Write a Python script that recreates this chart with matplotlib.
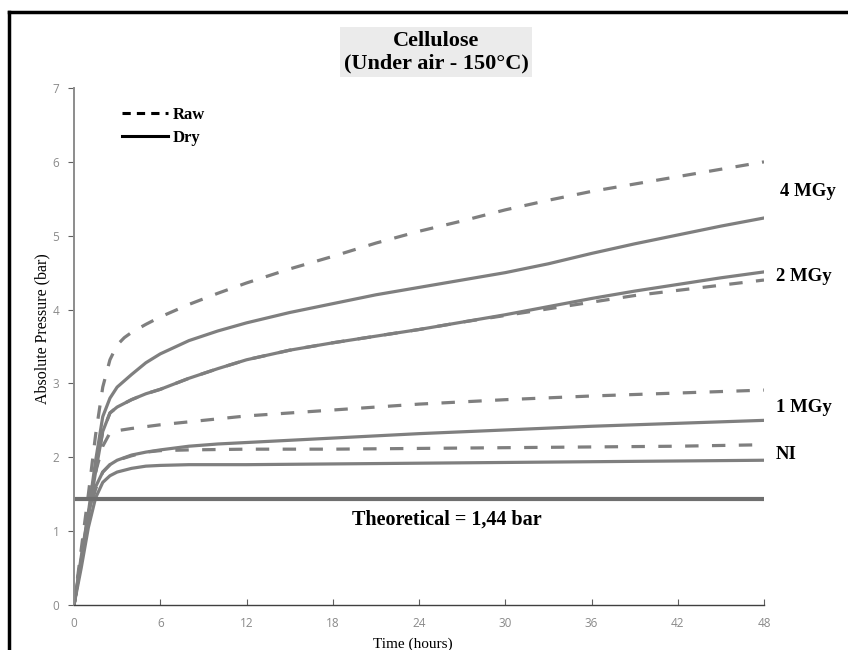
import matplotlib
matplotlib.use("Agg")
import matplotlib.pyplot as plt
from matplotlib.lines import Line2D

# ---- data ----
t_4raw = [0, 0.5, 1, 1.5, 2, 2.5, 3, 3.5, 4, 5, 6, 8, 10, 12, 15, 18, 21, 24, 27, 30, 33, 36, 39, 42, 45, 48]
p_4raw = [0, 0.75, 1.5, 2.3, 2.95, 3.32, 3.52, 3.62, 3.69, 3.8, 3.9, 4.07, 4.22, 4.36, 4.55, 4.72, 4.9, 5.06,
          5.2, 5.35, 5.48, 5.6, 5.7, 5.8, 5.9, 6.0]

t_4dry = [0, 0.5, 1, 1.5, 2, 2.5, 3, 4, 5, 6, 8, 10, 12, 15, 18, 21, 24, 27, 30, 33, 36, 39, 42, 45, 48]
p_4dry = [0, 0.6, 1.25, 1.95, 2.55, 2.8, 2.95, 3.12, 3.28, 3.4, 3.58, 3.71, 3.82, 3.96, 4.08, 4.2, 4.3,
          4.4, 4.5, 4.62, 4.76, 4.89, 5.01, 5.13, 5.24]

t_2dry = [0, 0.5, 1, 1.5, 2, 2.5, 3, 4, 5, 6, 8, 10, 12, 15, 18, 21, 24, 27, 30, 33, 36, 39, 42, 45, 48]
p_2dry = [0, 0.6, 1.2, 1.8, 2.35, 2.6, 2.68, 2.78, 2.86, 2.92, 3.07, 3.2, 3.32, 3.45, 3.55, 3.64, 3.73,
          3.83, 3.93, 4.04, 4.15, 4.25, 4.34, 4.43, 4.51]

t_2raw = [0, 0.5, 1, 1.5, 2, 2.5, 3, 4, 5, 6, 8, 10, 12, 15, 18, 21, 24, 27, 30, 33, 36, 39, 42, 45, 48]
p_2raw = [0, 0.6, 1.2, 1.8, 2.35, 2.6, 2.68, 2.78, 2.86, 2.92, 3.07, 3.2, 3.32, 3.45, 3.55, 3.64, 3.73,
          3.83, 3.92, 4.01, 4.1, 4.19, 4.26, 4.33, 4.40]

t_1raw = [0, 0.5, 1, 1.5, 2, 2.5, 3, 4, 6, 8, 10, 12, 15, 18, 21, 24, 30, 36, 42, 48]
p_1raw = [0, 0.65, 1.3, 1.8, 2.15, 2.33, 2.36, 2.39, 2.44, 2.48, 2.52, 2.56, 2.6, 2.64, 2.68, 2.72,
          2.78, 2.83, 2.87, 2.91]

t_1dry = [0, 0.5, 1, 1.5, 2, 2.5, 3, 4, 5, 6, 8, 10, 12, 15, 18, 21, 24, 30, 36, 42, 48]
p_1dry = [0, 0.65, 1.25, 1.6, 1.8, 1.9, 1.96, 2.03, 2.07, 2.1, 2.15, 2.18, 2.2, 2.23, 2.26, 2.29, 2.32,
          2.37, 2.42, 2.46, 2.5]

t_NIraw = [0, 0.5, 1, 1.5, 2, 2.5, 3, 4, 5, 6, 8, 12, 18, 24, 30, 36, 42, 48]
p_NIraw = [0, 0.65, 1.2, 1.57, 1.8, 1.9, 1.96, 2.02, 2.07, 2.09, 2.1, 2.11, 2.11, 2.12, 2.13, 2.14, 2.15, 2.17]

t_NIdry = [0, 0.5, 1, 1.5, 2, 2.5, 3, 4, 5, 6, 8, 12, 18, 24, 30, 36, 42, 48]
p_NIdry = [0, 0.5, 1.05, 1.45, 1.66, 1.75, 1.8, 1.85, 1.88, 1.89, 1.9, 1.9, 1.91, 1.92, 1.93, 1.94, 1.95, 1.96]

theoretical = 1.44
x_ticks = [0, 6, 12, 18, 24, 30, 36, 42, 48]
y_ticks = [0, 1, 2, 3, 4, 5, 6, 7]

# ---- figure ----
fig = plt.figure(figsize=(8.48, 6.5), dpi=100)
ax = fig.add_axes([74/848, 1-605/650, 690/848, 517/650])

gray = "#7f7f7f"
lw = 2.3
dash = (0, (4.2, 4.2))

ax.plot(t_4raw, p_4raw, color=gray, lw=lw, ls=dash)
ax.plot(t_4dry, p_4dry, color=gray, lw=lw)
ax.plot(t_2raw, p_2raw, color=gray, lw=lw, ls=dash)
ax.plot(t_2dry, p_2dry, color=gray, lw=lw)
ax.plot(t_1raw, p_1raw, color=gray, lw=lw, ls=dash)
ax.plot(t_1dry, p_1dry, color=gray, lw=lw)
ax.plot(t_NIraw, p_NIraw, color=gray, lw=lw, ls=dash)
ax.plot(t_NIdry, p_NIdry, color=gray, lw=lw)
ax.plot([0, 48], [theoretical, theoretical], color="#6f6f6f", lw=3)

ax.set_xlim(0, 48)
ax.set_ylim(0, 7)
ax.set_xticks(x_ticks)
ax.set_yticks(y_ticks)
for s in ["top", "right"]:
    ax.spines[s].set_visible(False)
ax.spines["left"].set_color("#8c8c8c")
ax.spines["left"].set_linewidth(1.4)
ax.spines["bottom"].set_color("#404040")
ax.spines["bottom"].set_linewidth(1.0)
ax.tick_params(axis="both", length=4, labelsize=8.5, labelcolor="#8a8a8a", colors="#606060")
ax.tick_params(axis="x", direction="in", pad=8.5)
ax.tick_params(axis="y", direction="out", pad=6.5)
for lab in ax.get_xticklabels() + ax.get_yticklabels():
    lab.set_family("Open Sans")
    lab.set_color("#8a8a8a")

serif = "Liberation Serif"
ax.set_xlabel("Time (hours)", family=serif, fontsize=11)
ax.xaxis.set_label_coords((413-74)/690, (605-638)/517)
ax.set_ylabel("Absolute Pressure (bar)", family=serif, fontsize=11.5)
ax.yaxis.set_label_coords((50-74)/690, (605-329)/517)

# curve labels
kw = dict(family=serif, fontsize=13.5, fontweight="bold", ha="left", va="center")
ax.text(49.1, 5.6, "4 MGy", **kw)
ax.text(48.83, 4.45, "2 MGy", **kw)
ax.text(48.83, 2.67, "1 MGy", **kw)
ax.text(48.83, 2.04, "NI", **kw)
ax.text(25.9, 1.15, "Theoretical = 1,44 bar", family=serif, fontsize=14.5,
        fontweight="bold", ha="center", va="center")

# legend
handles = [Line2D([], [], color="black", lw=2.2, ls=(0, (2.7, 2.0))),
           Line2D([], [], color="black", lw=2.2)]
leg = ax.legend(handles, ["Raw", "Dry"], loc="upper left",
                bbox_to_anchor=((122-74)/690, (605-107)/517), frameon=False,
                prop=dict(family=serif, size=12, weight="bold"),
                handlelength=2.75, handletextpad=0.3, labelspacing=0.42,
                borderaxespad=0, borderpad=0)

# title
fig.text(436/848, 1-52/650, "Cellulose\n(Under air - 150°C)", family=serif,
         fontsize=16, fontweight="bold", ha="center", va="center",
         linespacing=1.2,
         bbox=dict(boxstyle="square,pad=0.15", fc="#ebebeb", ec="none"))

# outer frame (left and top edges)
fig.add_artist(Line2D([9/848, 9/848], [0, 1-12/650], color="black", lw=2.5,
                      transform=fig.transFigure))
fig.add_artist(Line2D([9/848, 1], [1-12/650, 1-12/650], color="black", lw=2.5,
                      transform=fig.transFigure))

fig.savefig("out.png", dpi=100)
